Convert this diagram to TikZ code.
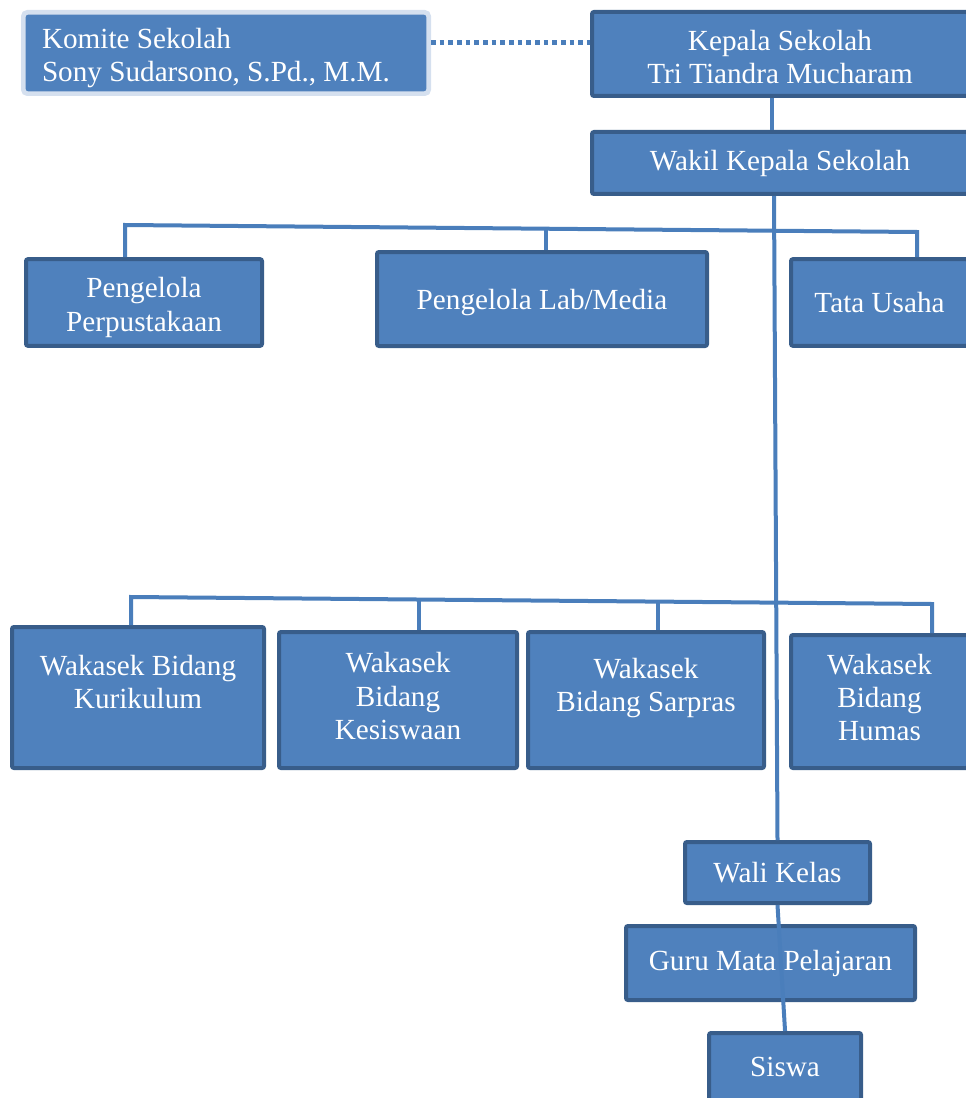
\documentclass[tikz,border=0pt]{standalone}
\usepackage{fontspec}
\setmainfont{Liberation Serif}
\usepackage{tikz}
\usetikzlibrary{positioning}

\definecolor{boxfill}{HTML}{4F81BD}
\definecolor{boxline}{HTML}{385D8A}
\definecolor{linkcol}{HTML}{4A7EBB}
\definecolor{glow}{HTML}{D5E0EF}

\begin{document}
\begin{tikzpicture}[
    x=0.75pt, y=-0.75pt,
    unit/.style={rectangle, draw=boxline, line width=3pt, rounded corners=1.5pt,
                fill=boxfill, text=white, align=center, inner sep=2pt,
                font=\fontsize{21.9}{25}\selectfont},
    komite/.style={rectangle, draw=glow, line width=3.5pt, rounded corners=3pt,
                fill=boxfill, text=white, align=flush left, inner xsep=14pt,
                font=\fontsize{21.9}{25}\selectfont},
    link/.style={draw=linkcol, line width=3pt},
    dotlink/.style={draw=linkcol, line width=3.5pt, dash pattern=on 3.5pt off 3pt}
]
\useasboundingbox (0,0) rectangle (966,1098);

% === PIMPINAN ===
\node[komite, text width=276pt, minimum height=61pt, text depth=22pt] (komite) at (226,53)
    {Komite Sekolah\\Sony Sudarsono, S.Pd., M.M.};
\node[unit, minimum width=282pt, minimum height=63pt, text height=45pt, text depth=0pt] (kepala) at (780,54)
    {Kepala Sekolah\\Tri Tiandra Mucharam};
\node[unit, minimum width=282pt, minimum height=46.5pt] (wakil) at (780,163)
    {Wakil Kepala Sekolah};

% === PENGELOLA ===
\node[unit, minimum width=177pt, minimum height=65pt, text height=43pt, text depth=0pt] (perpus) at (144,302.5)
    {Pengelola\\Perpustakaan};
\node[unit, minimum width=247.5pt, minimum height=70.5pt, text depth=0pt] (lab) at (542,299)
    {Pengelola Lab/Media};
\node[unit, minimum width=132.75pt, minimum height=65pt] (tu) at (879.5,302.5)
    {Tata Usaha};

% === WAKASEK ===
\node[unit, minimum width=189pt, minimum height=105.75pt, text depth=23.5pt] (kur) at (138,697.5)
    {Wakasek Bidang\\Kurikulum};
\node[unit, minimum width=178.5pt, minimum height=102pt, text depth=6pt] (kes) at (398,700)
    {Wakasek\\Bidang\\Kesiswaan};
\node[unit, minimum width=177pt, minimum height=102pt, text depth=23pt] (sar) at (646,700)
    {Wakasek\\Bidang Sarpras};
\node[unit, minimum width=132.75pt, minimum height=99.75pt, text depth=6pt] (hum) at (879.5,701.5)
    {Wakasek\\Bidang\\Humas};

% === KELAS ===
\node[unit, minimum width=138.75pt, minimum height=45.75pt] (wali) at (777.5,872.5)
    {Wali Kelas};
\node[unit, minimum width=216.75pt, minimum height=55.5pt, below=14.25pt of wali, xshift=-5.25pt] (guru)
    {Guru Mata Pelajaran};
\node[unit, minimum width=114pt, minimum height=51pt, below=21.75pt of guru, xshift=10.9pt] (siswa)
    {Siswa};

% === GARIS ===
\coordinate (p1) at (125,225);
\coordinate (p2) at (546,228.5);
\coordinate (p3) at (917,232);
\coordinate (w1) at (131,597);
\coordinate (w2) at (419,599.5);
\coordinate (w3) at (658,600.5);
\coordinate (w4) at (932,604);

\draw[dotlink] ([yshift=8pt]komite.east) -- ([yshift=8pt]kepala.west |- komite.east);
\draw[link] ([xshift=-6pt]kepala.south) -- ([xshift=-6pt]wakil.north);
\draw[link] (perpus.north -| p1) -- (p1) -- (p3) -- (tu.north -| p3);
\draw[link] (p2) -- (lab.north -| p2);
\draw[link] (kur.north -| w1) -- (w1) -- (w4) -- (hum.north -| w4);
\draw[link] (w2) -- (kes.north -| w2);
\draw[link] (w3) -- (sar.north -| w3);
\draw[link] ([xshift=-4.5pt]wakil.south) -- (wali.north);
\draw[link] (wali.south) -- (siswa.north);

\end{tikzpicture}
\end{document}
